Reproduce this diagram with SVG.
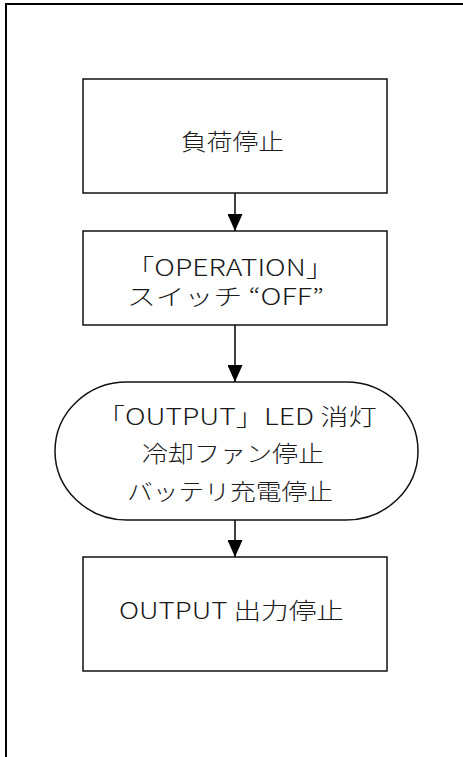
<svg xmlns="http://www.w3.org/2000/svg" width="463" height="757" viewBox="0 0 463 757">
  <style>
    .frame { fill: none; stroke: #000; stroke-width: 2; }
    .node { fill: #fff; stroke: #111; stroke-width: 1.5; }
    .lbl { font-family: "Noto Sans CJK JP", "Noto Sans", sans-serif; font-size: 22.5px; font-weight: 300; fill: #1a1a1a; text-anchor: middle; }
    .conn { stroke: #000; stroke-width: 1.5; fill: none; marker-end: url(#arrow); }
  </style>
  <defs>
    <marker id="arrow" markerUnits="userSpaceOnUse" viewBox="0 0 17 15" markerWidth="17" markerHeight="15" refX="17" refY="7.5" orient="auto">
      <path d="M0,0 L17,7.5 L0,15 Z" fill="#000"/>
    </marker>
  </defs>
  <rect width="463" height="757" fill="#fff"/>
  <rect class="frame" x="6" y="4" width="480" height="780"/>

  <g id="connectors">
    <line class="conn" x1="235" y1="193" x2="235" y2="231"/>
    <line class="conn" x1="235" y1="325" x2="235" y2="382"/>
    <line class="conn" x1="235" y1="520" x2="235" y2="557"/>
  </g>

  <g id="node-load-stop">
    <rect class="node" x="83" y="79" width="304" height="114"/>
    <text class="lbl" x="232.5" y="150" textLength="103" lengthAdjust="spacingAndGlyphs">負荷停止</text>
  </g>

  <g id="node-operation-off">
    <rect class="node" x="83" y="231" width="304" height="94"/>
    <text class="lbl" x="230" y="276" textLength="208" lengthAdjust="spacingAndGlyphs">「OPERATION」</text>
    <text class="lbl" x="225.5" y="305" textLength="197" lengthAdjust="spacingAndGlyphs">スイッチ “OFF”</text>
  </g>

  <g id="node-led-off">
    <rect class="node" x="55" y="382" width="363" height="138" rx="72" ry="69"/>
    <text class="lbl" x="236.7" y="425" textLength="280" lengthAdjust="spacingAndGlyphs">「OUTPUT」LED 消灯</text>
    <text class="lbl" x="233" y="461.5" textLength="182" lengthAdjust="spacingAndGlyphs">冷却ファン停止</text>
    <text class="lbl" x="230" y="499.5" textLength="206" lengthAdjust="spacingAndGlyphs">バッテリ充電停止</text>
  </g>

  <g id="node-output-stop">
    <rect class="node" x="83" y="557" width="304" height="114"/>
    <text class="lbl" x="231.5" y="619" textLength="225" lengthAdjust="spacingAndGlyphs">OUTPUT 出力停止</text>
  </g>
</svg>
